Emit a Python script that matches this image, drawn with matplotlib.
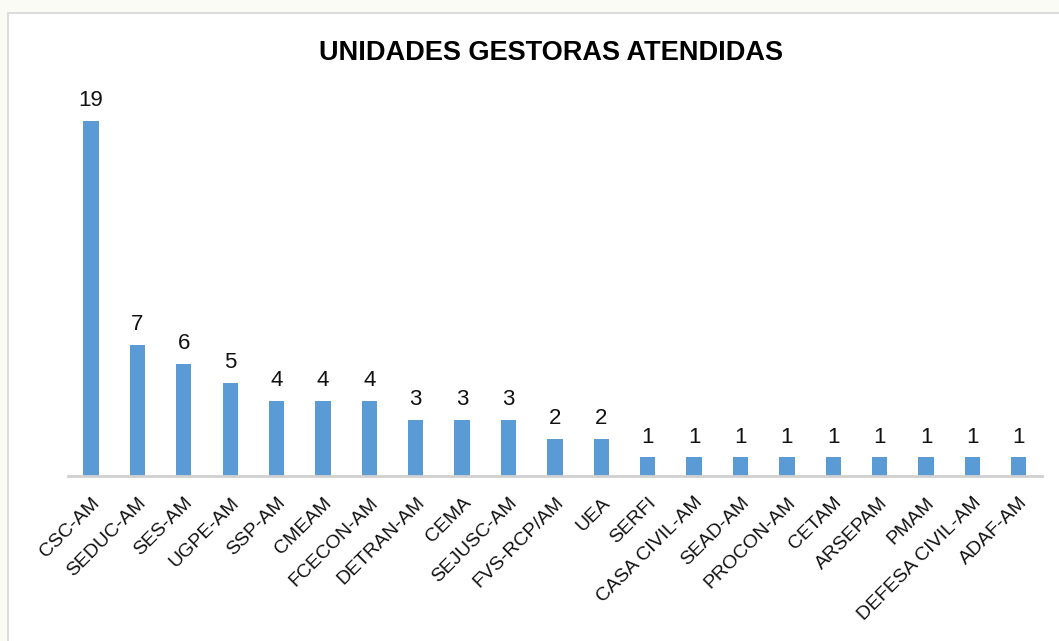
import matplotlib
matplotlib.use("Agg")
import matplotlib.pyplot as plt
from matplotlib.patches import Rectangle

categories = ["CSC-AM", "SEDUC-AM", "SES-AM", "UGPE-AM", "SSP-AM", "CMEAM", "FCECON-AM",
              "DETRAN-AM", "CEMA", "SEJUSC-AM", "FVS-RCP/AM", "UEA", "SERFI", "CASA CIVIL-AM",
              "SEAD-AM", "PROCON-AM", "CETAM", "ARSEPAM", "PMAM", "DEFESA CIVIL-AM", "ADAF-AM"]
values = [19, 7, 6, 5, 4, 4, 4, 3, 3, 3, 2, 2, 1, 1, 1, 1, 1, 1, 1, 1, 1]
title = "UNIDADES GESTORAS ATENDIDAS"

FONT = ["Liberation Sans Narrow", "Liberation Sans", "DejaVu Sans"]
plt.rcParams["font.family"] = FONT

W, H = 1059, 641
fig = plt.figure(figsize=(W / 100, H / 100), dpi=100)
fig.patch.set_facecolor("#FBFBF6")

# chart area (white with light gray border)
fig.patches.append(Rectangle((8 / W, -0.1), 1.2, 1.1 - 13 / H, transform=fig.transFigure,
                             facecolor="white", edgecolor="#D6D6D6", linewidth=1.2, zorder=-10))

ax = fig.add_axes([67.8 / W, (H - 476) / H, (1042 - 67.8) / W, (476 - 102) / H])
ax.set_facecolor("none")
ax.set_zorder(5)
x = list(range(len(categories)))
bars = ax.bar(x, values, width=0.33, color="#5B9BD5", zorder=2)
ax.set_xlim(-0.5, len(categories) - 0.5)
ax.set_ylim(0, 20)

for xi, v in zip(x, values):
    ax.annotate(str(v), (xi, v), xytext=(0, 7), textcoords="offset points",
                ha="center", va="bottom", fontsize=16, color="#111111")

for s in ["top", "right", "left"]:
    ax.spines[s].set_visible(False)
ax.spines["bottom"].set_color("#D0D0D0")
ax.spines["bottom"].set_linewidth(2.0)
ax.set_yticks([])
ax.set_xticks(x)
ax.set_xticklabels(categories, rotation=45, ha="right", va="top",
                   rotation_mode="anchor", fontsize=14, color="#111111")
ax.tick_params(axis="x", length=0, pad=13)

fig.text(551 / W, 1 - 53 / H, title, ha="center", va="center", fontsize=19.5,
         fontweight="bold", color="#000000")

fig.savefig("out.png", dpi=100, facecolor=fig.get_facecolor())
